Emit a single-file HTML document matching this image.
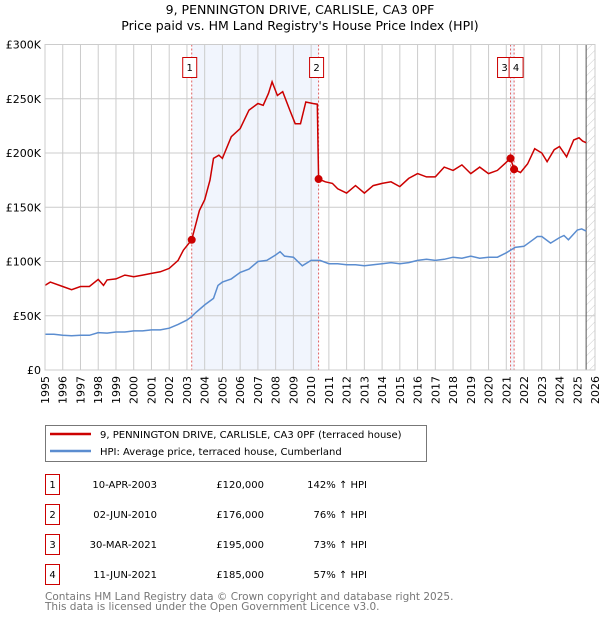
<!DOCTYPE html>
<html><head><meta charset="utf-8">
<style>
body{margin:0;background:#fff;width:600px;height:620px;overflow:hidden;font-family:"Liberation Sans","DejaVu Sans",sans-serif;}
svg text{font-family:"DejaVu Sans","Liberation Sans",sans-serif;}
</style></head><body>
<svg id="chart" width="600" height="620" viewBox="0 0 600 620" xmlns="http://www.w3.org/2000/svg">
<text x="300" y="14" text-anchor="middle" font-size="12.5" fill="#000">9, PENNINGTON DRIVE, CARLISLE, CA3 0PF</text>
<text x="300" y="30" text-anchor="middle" font-size="12.5" fill="#000">Price paid vs. HM Land Registry's House Price Index (HPI)</text>
<g id="plot"></g>
<g>
<rect x="45.5" y="425.5" width="381" height="36" fill="#fff" stroke="#777" stroke-width="1"/>
<line x1="50" y1="434" x2="91" y2="434" stroke="#cc0000" stroke-width="2.5"/>
<text x="100" y="438" font-size="10" fill="#000">9, PENNINGTON DRIVE, CARLISLE, CA3 0PF (terraced house)</text>
<line x1="50" y1="451" x2="91" y2="451" stroke="#5b8dd0" stroke-width="2.5"/>
<text x="100" y="455" font-size="10" fill="#000">HPI: Average price, terraced house, Cumberland</text>
</g>
<g id="table" font-size="10" fill="#000"></g>
<text x="45" y="600" font-size="10.5" fill="#777">Contains HM Land Registry data © Crown copyright and database right 2025.</text>
<text x="45" y="610" font-size="10.5" fill="#777">This data is licensed under the Open Government Licence v3.0.</text>
</svg>
<script>
const yearTicks=[1995,1996,1997,1998,1999,2000,2001,2002,2003,2004,2005,2006,2007,2008,2009,2010,2011,2012,2013,2014,2015,2016,2017,2018,2019,2020,2021,2022,2023,2024,2025,2026];
const valueTicks=[0,50,100,150,200,250,300];
const valueLabels=["£0","£50K","£100K","£150K","£200K","£250K","£300K"];
const hpiYears=[1995,1995.5,1996,1996.5,1997,1997.5,1998,1998.5,1999,1999.5,2000,2000.5,2001,2001.5,2002,2002.5,2003,2003.25,2003.5,2004,2004.5,2004.75,2005,2005.5,2006,2006.5,2007,2007.5,2008,2008.25,2008.5,2009,2009.5,2010,2010.5,2011,2011.5,2012,2012.5,2013,2013.5,2014,2014.5,2015,2015.5,2016,2016.5,2017,2017.5,2018,2018.5,2019,2019.5,2020,2020.5,2021,2021.5,2022,2022.5,2022.75,2023,2023.5,2024,2024.25,2024.5,2025,2025.25,2025.5];
const hpiValues=[33,33,32,31.5,32,32,34.5,34,35,35,36,36,37,37,38.5,42,46,49,53,60,66,78,81,84,90,93,100,101,106,109,105,104,96,101,101,98,98,97,97,96,97,98,99,98,99,101,102,101,102,104,103,105,103,104,104,108,113,114,120,123,123,117,122,124,120,129,130,128];
const priceYears=[1995,1995.3,1996,1996.5,1997,1997.5,1998,1998.3,1998.5,1999,1999.5,2000,2000.5,2001,2001.5,2002,2002.5,2002.8,2003.27,2003.7,2004,2004.3,2004.5,2004.8,2005,2005.5,2006,2006.5,2007,2007.3,2007.6,2007.8,2008.1,2008.4,2008.8,2009.1,2009.4,2009.7,2010.1,2010.35,2010.42,2010.8,2011.2,2011.5,2012,2012.5,2013,2013.5,2014,2014.5,2015,2015.5,2016,2016.5,2017,2017.5,2018,2018.5,2019,2019.5,2020,2020.5,2020.9,2021.24,2021.44,2021.8,2022.2,2022.6,2023,2023.3,2023.7,2024,2024.4,2024.8,2025.1,2025.3,2025.5];
const priceValues=[78,81,77,74,77,77,83.5,78,83,84,87.5,86,87.5,89,90.5,93.6,101,110.5,120,147,157,175,195,198,195,215,222.6,239.5,245.6,244,255,265.6,253,256.5,239.5,227,227,247,245.6,245,176,173.5,172,167,163,170,163,170,172,173.5,169,176.6,181,178,178,187,184,189,181,187,181,184,190,195,185,182,190,204,200,192,203,206,196.5,212,214,211,209.5];
const saleYears=[2003.27,2010.42,2021.24,2021.44];
const saleValues=[120,176,195,185];
const saleLabels=["1","2","3","4"];
const saleDates=["10-APR-2003","02-JUN-2010","30-MAR-2021","11-JUN-2021"];
const salePrices=["£120,000","£176,000","£195,000","£185,000"];
const saleHpi=["142% ↑ HPI","76% ↑ HPI","73% ↑ HPI","57% ↑ HPI"];

const NS="http://www.w3.org/2000/svg";
const X0=45,X1=595,Y0=370,Y1=44.5;
const xs=y=>X0+(y-1995)/(2026-1995)*(X1-X0);
const ys=v=>Y0-v/300*(Y0-Y1);
const plot=document.getElementById('plot');
function mk(tag,attrs,parent){const e=document.createElementNS(NS,tag);for(const k in attrs)e.setAttribute(k,attrs[k]);(parent||plot).appendChild(e);return e;}

// shaded spans
let s=mk('rect',{x:xs(saleYears[0]),y:Y1,width:xs(saleYears[1])-xs(saleYears[0]),height:Y0-Y1,fill:'#eef3fc',opacity:0.8});


s=mk('rect',{x:xs(saleYears[2]),y:Y1,width:xs(saleYears[3])-xs(saleYears[2]),height:Y0-Y1,fill:'#eef3fc',opacity:0.8});


// hatch
const defs=mk('defs',{});
const pat=mk('pattern',{id:'hatch',width:6,height:6,patternUnits:'userSpaceOnUse',patternTransform:'rotate(45)'},defs);
mk('line',{x1:0,y1:0,x2:0,y2:6,stroke:'#ccc','stroke-width':1},pat);
const hx=xs(2025.5);
s=mk('rect',{x:hx,y:Y1,width:X1-hx,height:Y0-Y1,fill:'url(#hatch)'});



// grid
yearTicks.forEach(y=>{
  const g=mk('line',{x1:xs(y),x2:xs(y),y1:Y1,y2:Y0,stroke:'#ccc','stroke-width':1});
  
  
  const t=mk('text',{x:0,y:0,'font-size':11,fill:'#000','text-anchor':'end',transform:`translate(${xs(y)+4},${Y0+6}) rotate(-90)`});
  t.textContent=y;
  
  
});
valueTicks.forEach((v,i)=>{
  const g=mk('line',{x1:X0,x2:X1,y1:ys(v),y2:ys(v),stroke:'#ccc','stroke-width':1});
  
  
  const t=mk('text',{x:X0-4,y:ys(v)+4,'font-size':11,fill:'#000','text-anchor':'end'});
  t.textContent=valueLabels[i];
  
  
});
s=mk('line',{x1:hx,x2:hx,y1:Y1,y2:Y0,stroke:'#555','stroke-width':1});



// sale vlines
saleYears.forEach((y,i)=>{
  const l=mk('line',{x1:xs(y),x2:xs(y),y1:Y1,y2:Y0,stroke:'#e06060','stroke-width':1,'stroke-dasharray':'2,2'});
  
  
});

// series
let d=hpiYears.map((y,i)=>(i?'L':'M')+xs(y).toFixed(1)+','+ys(hpiValues[i]).toFixed(1)).join('');
s=mk('path',{d:d,fill:'none',stroke:'#5b8dd0','stroke-width':1.5});


d=priceYears.map((y,i)=>(i?'L':'M')+xs(y).toFixed(1)+','+ys(priceValues[i]).toFixed(1)).join('');
s=mk('path',{d:d,fill:'none',stroke:'#cc0000','stroke-width':1.5});


saleYears.forEach((y,i)=>{
  const c=mk('circle',{cx:xs(y),cy:ys(saleValues[i]),r:4,fill:'#cc0000'});
  
  
});
// label boxes
const boxX=[xs(saleYears[0])-9,xs(saleYears[1])-9,xs(saleYears[2])-13,xs(saleYears[3])-5];
saleYears.forEach((y,i)=>{
  const g=mk('g',{});
  
  
  mk('rect',{x:boxX[i],y:57.5,width:14,height:20,fill:'#fff',stroke:'#cc0000','stroke-width':1},g);
  const t=mk('text',{x:boxX[i]+7,y:71,'font-size':10,'text-anchor':'middle',fill:'#000'},g);
  t.textContent=saleLabels[i];
});
// axes frame
mk('rect',{x:X0,y:Y1,width:X1-X0,height:Y0-Y1,fill:'none',stroke:'#ccc','stroke-width':1});

// table
const tbl=document.getElementById('table');
saleLabels.forEach((lab,i)=>{
  const cy=483+i*30;
  const g=mk('g',{},tbl);
  
  
  mk('rect',{x:45.5,y:cy-8.5,width:14,height:20,fill:'#fff',stroke:'#cc0000','stroke-width':1},g);
  let t=mk('text',{x:52.5,y:cy+5,'text-anchor':'middle','font-size':10},g);t.textContent=lab;
  t=mk('text',{x:157,y:cy+5,'text-anchor':'end','font-size':10},g);t.textContent=saleDates[i];
  t=mk('text',{x:264,y:cy+5,'text-anchor':'end','font-size':10},g);t.textContent=salePrices[i];
  t=mk('text',{x:367,y:cy+5,'text-anchor':'end','font-size':10},g);t.textContent=saleHpi[i];
});
</script>
</body></html>
